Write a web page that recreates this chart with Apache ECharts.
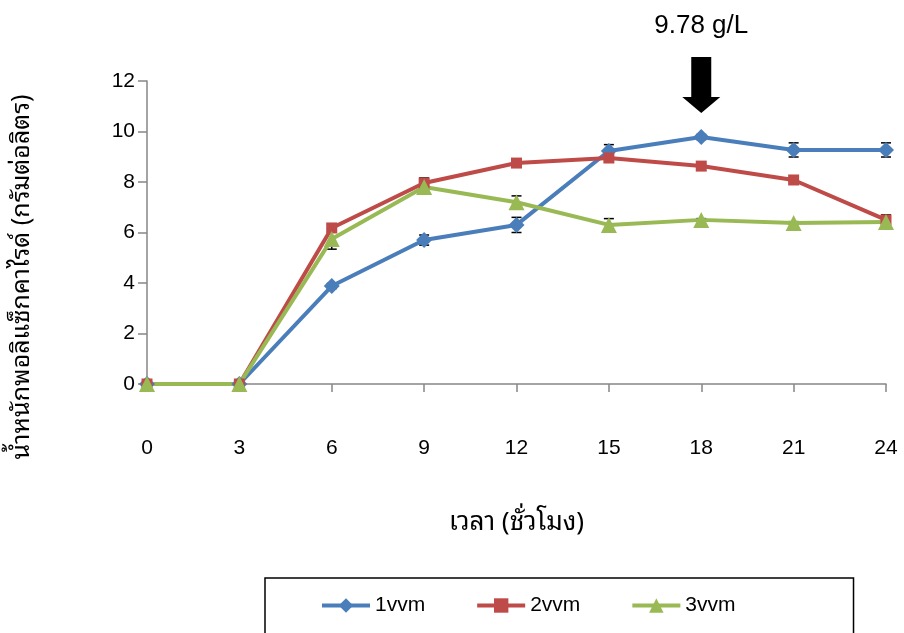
<!DOCTYPE html>
<html>
<head>
<meta charset="utf-8">
<script src="https://cdn.jsdelivr.net/npm/echarts@6/dist/echarts.min.js"></script>
<style>
html,body{margin:0;padding:0;background:#fff;}
#c{width:904px;height:633px;}
</style>
</head>
<body>
<div id="c"></div>
<script>
var categories = ['0','3','6','9','12','15','18','21','24'];
var s1 = [0, 0, 3.88, 5.70, 6.30, 9.23, 9.78, 9.27, 9.27];
var s2 = [0, 0, 6.18, 7.96, 8.75, 8.95, 8.63, 8.08, 6.50];
var s3 = [0, 0, 5.74, 7.80, 7.20, 6.30, 6.50, 6.38, 6.42];
var e1 = [0, 0, 0.10, 0.20, 0.30, 0.25, 0.10, 0.28, 0.28];
var e2 = [0, 0, 0.15, 0.20, 0.05, 0.05, 0.05, 0.05, 0.20];
var e3 = [0, 0, 0.40, 0.10, 0.25, 0.25, 0.05, 0.05, 0.05];
var names = ['1vvm','2vvm','3vvm'];
var colors = ['#4a7ebb','#be4b48','#98b954'];
var yTitle = 'น้ำหนักพอลิแซ็กคาไรด์ (กรัมต่อลิตร)';
var xTitle = 'เวลา (ชั่วโมง)';
var peakLabel = '9.78 g/L';

var FONT = 'Liberation Sans, Arial, sans-serif';
var THAI = '"Noto Sans Thai Looped", "Noto Sans Thai", "Tlwg Typo", Loma, Garuda, "Liberation Sans", sans-serif';

function errSeries(vals, errs) {
  var data = vals.map(function (v, i) { return [i, v, errs[i]]; });
  return {
    type: 'custom',
    z: 1,
    silent: true,
    data: data,
    renderItem: function (params, api) {
      var x = api.value(0), v = api.value(1), e = api.value(2);
      if (!e) return null;
      var hi = api.coord([x, v + e]);
      var lo = api.coord([x, v - e]);
      var w = 5;
      var st = {stroke: '#000', lineWidth: 1.5};
      return {
        type: 'group',
        children: [
          {type: 'line', shape: {x1: hi[0], y1: hi[1], x2: lo[0], y2: lo[1]}, style: st},
          {type: 'line', shape: {x1: hi[0]-w, y1: hi[1], x2: hi[0]+w, y2: hi[1]}, style: st},
          {type: 'line', shape: {x1: lo[0]-w, y1: lo[1], x2: lo[0]+w, y2: lo[1]}, style: st}
        ]
      };
    }
  };
}

var chart = echarts.init(document.getElementById('c'));
var symbols = ['diamond','rect','triangle'];
var sizes = [16, 11, 16];
var series = [s1, s2, s3].map(function (d, i) {
  var s = {
    name: names[i],
    type: 'line',
    data: d,
    symbol: symbols[i],
    symbolSize: sizes[i],
    showSymbol: true,
    z: 3,
    itemStyle: {color: colors[i]},
    lineStyle: {color: colors[i], width: 4},
    animation: false
  };
  if (i === 0) {
    s.markPoint = {
      symbol: 'path://M9,0L29,0L29,40L38,40L19,56L0,40L9,40Z',
      symbolSize: [38, 56],
      symbolOffset: [0, -52],
      itemStyle: {color: '#000'},
      label: {
        show: true,
        position: 'top',
        distance: 18,
        formatter: peakLabel,
        color: '#000',
        fontSize: 26,
        fontFamily: FONT
      },
      data: [{coord: [6, s1[6]]}]
    };
  }
  return s;
});
series.push(errSeries(s1, e1), errSeries(s2, e2), errSeries(s3, e3));

chart.setOption({
  animation: false,
  backgroundColor: '#fff',
  grid: {left: 147, right: 18, top: 81, bottom: 249, containLabel: false},
  legend: {
    data: names,
    left: 265,
    top: 578,
    itemWidth: 48,
    itemHeight: 18,
    itemGap: 50,
    padding: [17, 118, 40, 55],
    borderColor: '#000',
    borderWidth: 1.5,
    lineStyle: {width: 4},
    textStyle: {color: '#000', fontSize: 21, fontFamily: FONT}
  },
  graphic: [{
    type: 'text',
    x: 22,
    y: 277,
    rotation: Math.PI / 2,
    style: {text: yTitle, fill: '#000', fontSize: 25, fontFamily: THAI, align: 'center', verticalAlign: 'middle'}
  }],
  xAxis: {
    type: 'category',
    data: categories,
    boundaryGap: false,
    name: xTitle,
    nameLocation: 'middle',
    nameGap: 126,
    nameTextStyle: {color: '#000', fontSize: 26, fontFamily: THAI},
    axisLine: {lineStyle: {color: '#868686', width: 1.5}},
    axisTick: {show: true, inside: false, length: 8, lineStyle: {color: '#868686', width: 1.5}},
    axisLabel: {color: '#000', fontSize: 21, fontFamily: FONT, margin: 54},
    splitLine: {show: false}
  },
  yAxis: {
    type: 'value',
    min: 0,
    max: 12,
    interval: 2,
    axisLine: {show: true, lineStyle: {color: '#868686', width: 1.5}},
    axisTick: {show: true, inside: false, length: 9, lineStyle: {color: '#868686', width: 1.5}},
    axisLabel: {color: '#000', fontSize: 21, fontFamily: FONT, margin: 12},
    splitLine: {show: false}
  },
  series: series
});
</script>
</body>
</html>
